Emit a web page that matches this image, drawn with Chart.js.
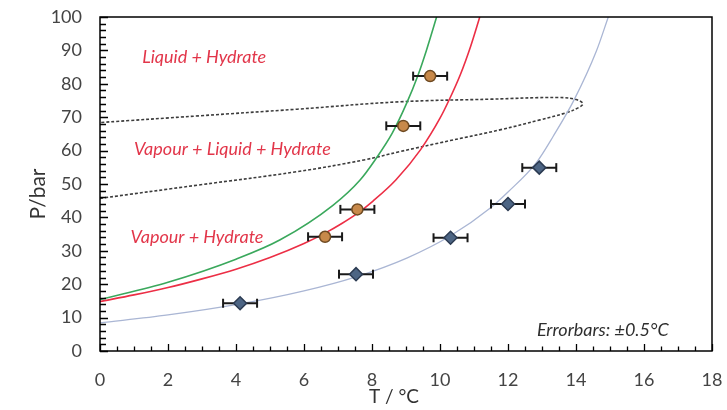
<!DOCTYPE html>
<html>
<head>
<meta charset="utf-8">
<script src="https://cdn.jsdelivr.net/npm/chart.js@4.4.0/dist/chart.umd.min.js"></script>
<style>
  html, body { margin: 0; padding: 0; background: #fff; }
  #wrap { width: 727px; height: 410px; }
</style>
</head>
<body>
<div id="wrap"><canvas id="hydrateChart"></canvas></div>
<script>
// measured hydrate points (T in °C, P in bar), error ±0.5 °C
const orangeT = [6.62, 7.57, 8.92, 9.71];
const orangeP = [34.2, 42.4, 67.4, 82.3];
const blueT = [4.12, 7.53, 10.31, 12.0, 12.92];
const blueP = [14.3, 23.0, 33.9, 44.0, 54.9];
const errT = 0.5;

// model equilibrium curves
const greenT = [0, 2, 4, 5.3, 6.86, 7.65, 8.09, 8.6, 9.02, 9.35, 9.6, 9.9];
const greenP = [15.4, 20.6, 27.5, 33.3, 43.7, 51.2, 57.2, 65.3, 74.2, 82.5, 90, 100];
const redT = [0, 1, 2, 3, 4, 5, 6, 6.62, 7.1, 7.57, 8.03, 8.7, 9.43, 10, 10.26, 10.6, 10.9, 11.17];
const redP = [14.8, 16.8, 19.0, 21.6, 24.5, 28.0, 32.2, 35.3, 38.1, 41.2, 44.9, 51.2, 60.3, 69.7, 75, 82.8, 91.2, 100];
const blueCurveT = [0, 2, 4.12, 6, 7.53, 9.04, 10.31, 11.49, 12, 12.84, 13.33, 13.94, 14.6, 14.95];
const blueCurveP = [8.4, 10.8, 14.1, 18.0, 22.2, 27.9, 34.5, 42.9, 47.6, 56.5, 64.3, 75.1, 89.8, 100];

// phase envelope (lower branch out, upper branch back)
const loopT = [0, 2.9, 5.8, 7.76, 8.82, 10.3, 11.76, 12.94, 13.7, 14.1, 14.2, 14.0, 13.5, 11.5, 8.8, 5.8, 2.9, 0];
const loopP = [45.7, 49.7, 53.7, 57.2, 59.7, 63, 66.2, 69.2, 71.3, 73, 74.1, 75.3, 75.9, 75.4, 74.6, 72.4, 70.4, 68.4];

const regionLabels = ['Liquid + Hydrate', 'Vapour + Liquid + Hydrate', 'Vapour + Hydrate'];
const noteLabel = 'Errorbars: ±0.5°C';
const xTitle = 'T / °C';
const yTitle = 'P/bar';

const xy = (ts, ps) => ts.map((t, i) => ({ x: t, y: ps[i] }));

const curve = (ts, ps, color, width) => ({
  data: xy(ts, ps),
  showLine: true,
  borderColor: color,
  borderWidth: width,
  pointRadius: 0,
  pointHoverRadius: 0,
  cubicInterpolationMode: 'monotone',
  order: 3
});

const errorBars = (ts, ps) => ts.map((t, i) => ({
  data: [{ x: t - errT, y: ps[i] }, { x: t + errT, y: ps[i] }],
  showLine: true,
  borderColor: '#1a1a1a',
  borderWidth: 2,
  pointStyle: 'line',
  rotation: 90,
  pointRadius: 4.5,
  pointBorderWidth: 2,
  pointBorderColor: '#1a1a1a',
  order: 1
}));

// frame, inward ticks, axis titles and region labels
const decorPlugin = {
  id: 'decor',
  afterDatasetsDraw(chart) {
    const { ctx, chartArea: a, scales: { x, y } } = chart;
    ctx.save();
    ctx.strokeStyle = '#000';
    ctx.lineWidth = 1.5;
    ctx.strokeRect(a.left, a.top, a.right - a.left, a.bottom - a.top);

    ctx.lineWidth = 1.3;
    ctx.beginPath();
    for (let v = 0; v <= 18.001; v += 0.5) {
      const px = Math.round(x.getPixelForValue(v)) + 0.5;
      const len = Math.abs(v % 2) < 0.01 ? 7 : 4.5;
      ctx.moveTo(px, a.bottom);
      ctx.lineTo(px, a.bottom - len);
    }
    for (let v = 0; v <= 100.001; v += 2) {
      const py = Math.round(y.getPixelForValue(v)) + 0.5;
      const len = v % 10 === 0 ? 8 : 6;
      ctx.moveTo(a.left, py);
      ctx.lineTo(a.left + len, py);
    }
    ctx.stroke();

    ctx.fillStyle = '#333';
    ctx.textAlign = 'center';
    ctx.textBaseline = 'middle';
    ctx.font = '19px Lato';
    ctx.fillText(xTitle, 394, 397);
    ctx.font = '21px Lato';
    ctx.translate(38, 194);
    ctx.rotate(-Math.PI / 2);
    ctx.fillText(yTitle, 0, 0);
    ctx.setTransform(1, 0, 0, 1, 0, 0);

    ctx.textAlign = 'left';
    ctx.font = 'italic 18px Lato';
    ctx.fillStyle = '#e2364a';
    const spots = [[1.24, 88], [1.0, 60.5], [0.9, 34]];
    regionLabels.forEach((txt, i) => {
      ctx.fillText(txt, x.getPixelForValue(spots[i][0]), y.getPixelForValue(spots[i][1]));
    });
    ctx.fillStyle = '#2e2e2e';
    ctx.fillText(noteLabel, x.getPixelForValue(12.85), y.getPixelForValue(6.3));
    ctx.restore();
  }
};

new Chart(document.getElementById('hydrateChart'), {
  type: 'scatter',
  data: {
    datasets: [
      {
        data: xy(orangeT, orangeP),
        pointStyle: 'circle',
        pointRadius: 5.5,
        backgroundColor: '#c8894a',
        borderColor: '#6e4a22',
        borderWidth: 1.5,
        order: 0
      },
      {
        data: xy(blueT, blueP),
        pointStyle: 'rectRot',
        pointRadius: 6.5,
        backgroundColor: '#4d6584',
        borderColor: '#2c3b52',
        borderWidth: 1.5,
        order: 0
      },
      ...errorBars(orangeT, orangeP),
      ...errorBars(blueT, blueP),
      curve(greenT, greenP, '#3aa85c', 1.6),
      curve(redT, redP, '#ec2e45', 1.6),
      curve(blueCurveT, blueCurveP, '#aab6d4', 1.3),
      {
        data: xy(loopT, loopP),
        showLine: true,
        borderColor: '#3c3c3c',
        borderWidth: 1.6,
        borderDash: [3, 2],
        pointRadius: 0,
        tension: 0.4,
        order: 4
      }
    ]
  },
  options: {
    responsive: true,
    maintainAspectRatio: false,
    animation: false,
    layout: { padding: { top: 17, right: 15, left: 0, bottom: 0 } },
    plugins: { legend: { display: false }, tooltip: { enabled: false } },
    scales: {
      x: {
        type: 'linear',
        min: 0,
        max: 18,
        grid: { display: false, drawTicks: false },
        border: { display: false },
        ticks: { stepSize: 2, padding: 18, color: '#444', font: { family: 'Lato', size: 18 } },
        afterFit: s => { s.height = 59; s.paddingLeft = 0; s.paddingRight = 0; }
      },
      y: {
        min: 0,
        max: 100,
        grid: { display: false, drawTicks: false },
        border: { display: false },
        ticks: { stepSize: 10, padding: 18, color: '#444', font: { family: 'Lato', size: 18 } },
        afterFit: s => { s.width = 100; s.paddingTop = 0; s.paddingBottom = 0; }
      }
    }
  },
  plugins: [decorPlugin]
});
</script>
</body>
</html>
